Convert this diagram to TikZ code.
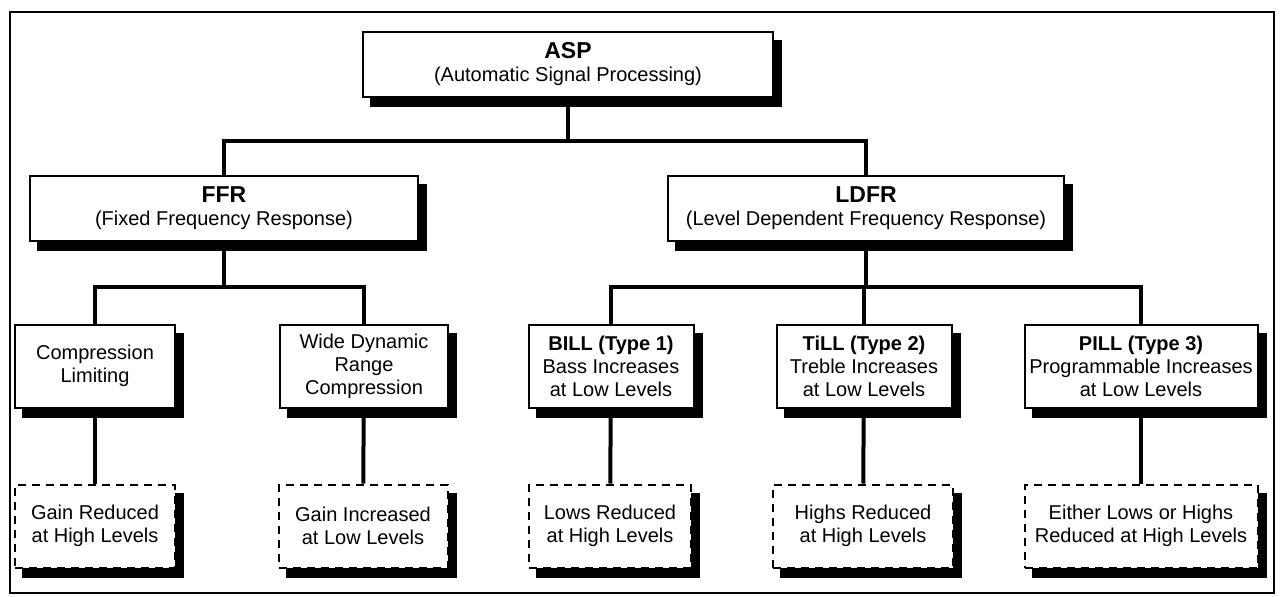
\documentclass[tikz,border=0pt]{standalone}
\usepackage{fontspec}
\setmainfont{Liberation Sans}

\pgfdeclarelayer{background}
\pgfsetlayers{background,main}

\newcommand{\headfont}{\fontsize{11.5}{13.5}\selectfont\bfseries}
% solid drop shadow behind a named box
\newcommand{\boxshadow}[1]{%
  \fill[black] ([shift={(8,9)}]#1.north west) rectangle ([shift={(8,9)}]#1.south east);}

\begin{document}
\begin{tikzpicture}[
    x=0.5pt, y=-0.5pt,
    box/.style={draw=black, line width=1pt, fill=white,
                align=center, inner xsep=1pt, inner ysep=2pt,
                font=\fontsize{10}{11.5}\selectfont},
    topbox/.style={box, minimum height=32.5pt},
    midbox/.style={box, minimum height=41.5pt},
    effbox/.style={midbox, dashed, dash pattern=on 4pt off 3pt},
    link/.style={line width=2pt},
    frame/.style={line width=1.2pt},
]
\useasboundingbox (0,0) rectangle (1282,596);
\draw[frame] (10,12) rectangle (1274,593);

% --- top level ---
\node[topbox, minimum width=205pt] (asp) at (568, 64)
    {{\headfont ASP}\\(Automatic Signal Processing)};

% --- second level ---
\node[topbox, minimum width=194pt] (ffr) at (224, 208)
    {{\headfont FFR}\\(Fixed Frequency Response)};
\node[topbox, minimum width=198pt] (ldfr) at (866, 208)
    {{\headfont LDFR}\\(Level Dependent Frequency Response)};

% --- processing types ---
\node[midbox, minimum width=80pt] (cl) at (95, 366)
    {Compression\\Limiting};
\node[midbox, minimum width=84pt] (wdrc) at (364, 366)
    {Wide Dynamic\\Range\\Compression};
\node[midbox, minimum width=82.5pt] (bill) at (611, 366)
    {\textbf{BILL (Type 1)}\\Bass Increases\\at Low Levels};
\node[midbox, minimum width=87.5pt] (till) at (864, 366)
    {\textbf{TiLL (Type 2)}\\Treble Increases\\at Low Levels};
\node[midbox, minimum width=116.5pt] (pill) at (1141, 366)
    {\textbf{PILL (Type 3)}\\Programmable Increases\\at Low Levels};

% --- effects (dashed) ---
\node[effbox, minimum width=80pt] (clx) at (95, 526)
    {Gain Reduced\\at High Levels};
\node[effbox, minimum width=84.5pt] (wdrcx) at (363, 526)
    {Gain Increased\\at Low Levels};
\node[effbox, minimum width=81pt] (billx) at (610, 526)
    {Lows Reduced\\at High Levels};
\node[effbox, minimum width=90pt] (tillx) at (863, 526)
    {Highs Reduced\\at High Levels};
\node[effbox, minimum width=116.5pt] (pillx) at (1141, 526)
    {Either Lows or Highs\\Reduced at High Levels};

% --- tree lines ---
\begin{pgfonlayer}{background}
\foreach \b in {asp, ffr, ldfr, cl, wdrc, bill, till, pill,
                clx, wdrcx, billx, tillx, pillx}
    {\boxshadow{\b}}

\draw[link] (asp.south) -- ++(0,43) -| (ffr.north);
\draw[link] (asp.south) -- ++(0,43) -| (ldfr.north);

\draw[link] (ffr.south) -- ++(0,45) -| (cl.north);
\draw[link] (ffr.south) -- ++(0,45) -| (wdrc.north);

\draw[link] (ldfr.south) -- ++(0,45) -| (bill.north);
\draw[link] (ldfr.south) -- ++(0,45) -| (till.north);
\draw[link] (ldfr.south) -- ++(0,45) -| (pill.north);

\draw[link] (cl) -- (clx);
\draw[link] (wdrc) -- (wdrcx);
\draw[link] (bill) -- (billx);
\draw[link] (till) -- (tillx);
\draw[link] (pill) -- (pillx);
\end{pgfonlayer}

\end{tikzpicture}
\end{document}
